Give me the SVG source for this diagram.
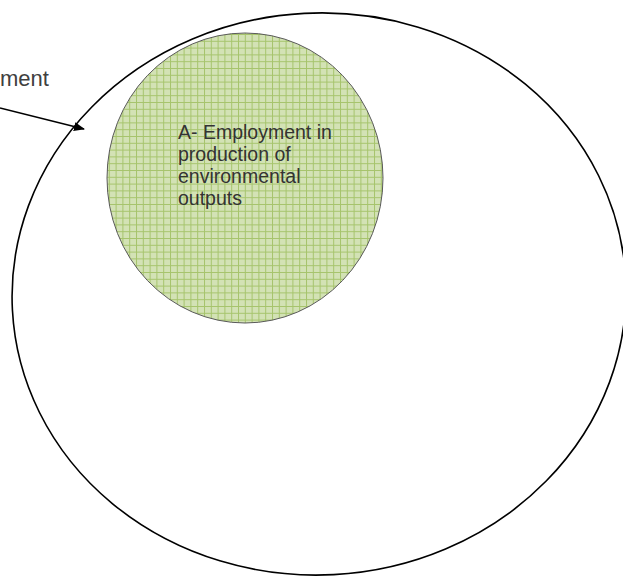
<svg xmlns="http://www.w3.org/2000/svg" width="623" height="576" viewBox="0 0 623 576">
<defs>
<pattern id="grid" width="6.8" height="6.8" patternUnits="userSpaceOnUse">
<rect width="6.8" height="6.8" fill="#d3e2b5"/>
<path d="M0 0.5H6.8M0.5 0V6.8" stroke="#a6c46c" stroke-width="1" fill="none"/>
</pattern>
<marker id="arrow" markerWidth="11" markerHeight="9" refX="10" refY="4.5" orient="auto" markerUnits="userSpaceOnUse">
<path d="M0 0L11 4.5L0 9Z" fill="#000"/>
</marker>
<style>
.outer{fill:none;stroke:#000;stroke-width:1.6}
.inner{fill:url(#grid);stroke:#5a5a5a;stroke-width:1}
.lbl{font-family:"Liberation Sans",Arial,sans-serif;font-size:19.5px;fill:#333}
.ext{font-family:"Liberation Sans",Arial,sans-serif;font-size:22px;fill:#404040}
.conn{stroke:#000;stroke-width:1.5;fill:none}
</style>
</defs>
<g id="outer-node">
<ellipse class="outer" cx="319" cy="294" rx="307" ry="281" transform="rotate(-3 319 294)"/>
</g>
<g id="node-a">
<ellipse class="inner" cx="245" cy="178" rx="138" ry="145"/>
<text class="lbl" x="178" y="139">A- Employment in</text>
<text class="lbl" x="178" y="161">production of</text>
<text class="lbl" x="178" y="183">environmental</text>
<text class="lbl" x="178" y="205">outputs</text>
</g>
<g id="label-total">
<text class="ext" x="0" y="86">ment</text>
</g>
<g id="connectors">
<line class="conn" x1="0" y1="108" x2="84" y2="129" marker-end="url(#arrow)"/>
</g>
</svg>
